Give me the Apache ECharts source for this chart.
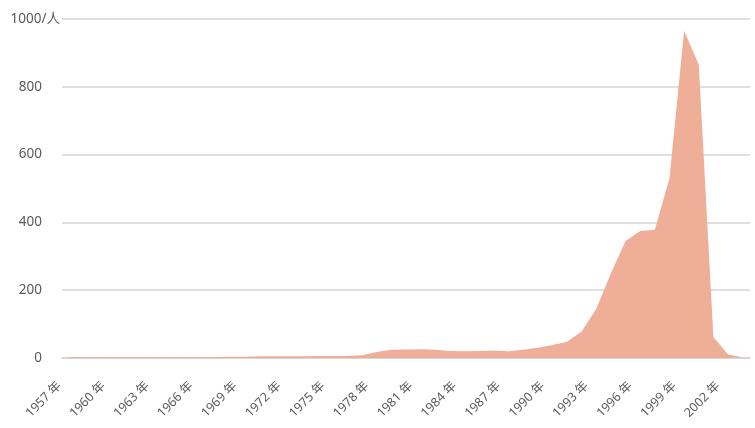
<!DOCTYPE html>
<html>
<head>
<meta charset="utf-8">
<script src="https://cdn.jsdelivr.net/npm/echarts@6/dist/echarts.min.js"></script>
<style>
html,body{margin:0;padding:0;background:#fff;}
#chart{width:755px;height:428px;}
</style>
</head>
<body>
<div id="chart"></div>
<script>
const years = [1957,1958,1959,1960,1961,1962,1963,1964,1965,1966,1967,1968,1969,1970,1971,1972,1973,1974,1975,1976,1977,1978,1979,1980,1981,1982,1983,1984,1985,1986,1987,1988,1989,1990,1991,1992,1993,1994,1995,1996,1997,1998,1999,2000,2001,2002,2003];
const values = [2,3,2,3,2,3,2,3,2,3,3,4,4,5,5,5,5,6,6,6,8,18,24,25,26,24,21,20,21,22,20,24,30,38,48,78,145,250,345,375,378,530,965,865,62,10,2];
const yTicks = [0,200,400,600,800,1000];
const yTopLabel = '1000/人';

const categories = years.map(y => y + ' 年');
const font = "'Noto Sans', 'Noto Sans CJK SC', sans-serif";

const chart = echarts.init(document.getElementById('chart'));
chart.setOption({
  animation: false,
  backgroundColor: '#ffffff',
  grid: {left: 62, right: 5, top: 19, bottom: 70, containLabel: false},
  xAxis: {
    type: 'category',
    data: categories,
    boundaryGap: true,
    axisLine: {show: true, lineStyle: {color: '#D4D4D4', width: 1.5}},
    axisTick: {show: false},
    axisLabel: {
      interval: 2,
      rotate: 45,
      margin: 16,
      padding: [0, 14, 0, 0],
      color: '#595959',
      fontSize: 12.5,
      fontFamily: font
    },
    splitLine: {show: false}
  },
  yAxis: {
    type: 'value',
    min: yTicks[0],
    max: yTicks[yTicks.length - 1],
    interval: yTicks[1] - yTicks[0],
    name: yTopLabel,
    nameLocation: 'end',
    nameGap: 0,
    nameTextStyle: {
      align: 'right',
      verticalAlign: 'middle',
      color: '#595959',
      fontSize: 13.5,
      fontFamily: font,
      padding: [0, 2, 0, 0]
    },
    axisLine: {show: false},
    axisTick: {show: false},
    axisLabel: {
      margin: 20,
      color: '#595959',
      fontSize: 13.5,
      fontFamily: font,
      formatter: v => (v === yTicks[yTicks.length - 1] ? '' : String(v))
    },
    splitLine: {lineStyle: {color: '#D4D4D4', width: 1.5}}
  },
  series: [{
    type: 'line',
    data: values,
    symbol: 'none',
    lineStyle: {width: 0},
    itemStyle: {color: '#EFAE98'},
    areaStyle: {color: '#EFAE98', opacity: 1}
  }]
});
</script>
</body>
</html>
